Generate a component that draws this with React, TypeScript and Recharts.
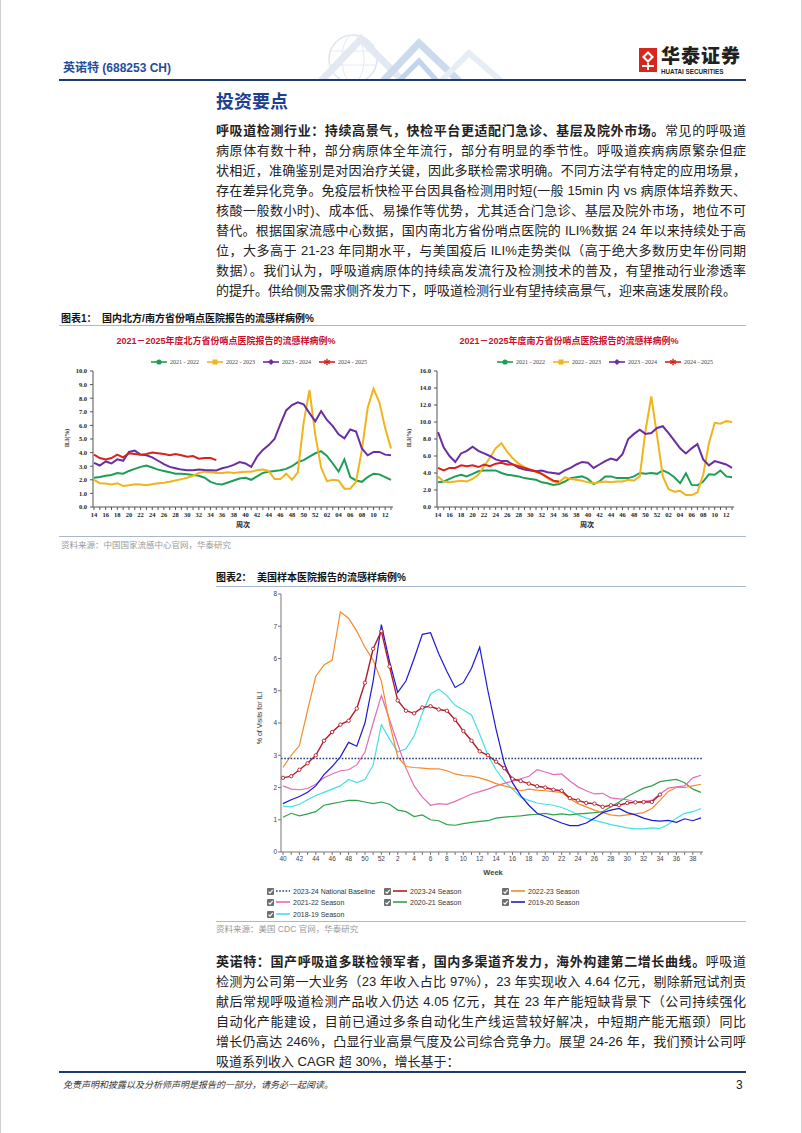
import React from "react";
import { Line, LineChart, ReferenceLine, XAxis, YAxis } from "recharts";

// ---- 图表1: 国内北方/南方省份哨点医院 ILI% (周次 14 → 次年 13) ----
const cnWeeks = [
  "14", "15", "16", "17", "18", "19", "20", "21", "22", "23", "24", "25", "26",
  "27", "28", "29", "30", "31", "32", "33", "34", "35", "36", "37", "38", "39",
  "40", "41", "42", "43", "44", "45", "46", "47", "48", "49", "50", "51", "52",
  "01", "02", "03", "04", "05", "06", "07", "08", "09", "10", "11", "12", "13",
];

const north2122 = [
  2.15, 2.2, 2.3, 2.35, 2.5, 2.45, 2.65, 2.8, 2.95, 3.05, 2.9, 2.75, 2.65,
  2.55, 2.45, 2.45, 2.4, 2.35, 2.3, 2.15, 1.85, 1.7, 1.65, 1.8, 1.95, 2.1,
  2.15, 2.0, 2.25, 2.5, 2.6, 2.65, 2.7, 2.8, 3.0, 3.3, 3.45, 3.7, 3.95,
  4.1, 3.75, 3.2, 2.6, 3.5, 2.2, 1.95, 1.85, 2.2, 2.45, 2.4, 2.2, 2.0,
];
const north2223 = [
  2.0, 1.75, 1.72, 1.65, 1.75, 1.55, 1.6, 1.68, 1.65, 1.6, 1.68, 1.75, 1.78,
  1.85, 1.95, 2.05, 2.15, 2.3, 2.5, 2.6, 2.55, 2.5, 2.5, 2.55, 2.5, 2.55,
  2.6, 2.6, 2.7, 2.75, 2.65, 2.05, 2.05, 2.45, 2.0, 2.55, 6.2, 8.6, 5.3,
  2.9, 1.9, 2.0, 1.95, 1.35, 1.35, 1.85, 4.2, 7.3, 8.7, 7.7, 5.8, 4.3,
];
const north2324 = [
  3.25, 3.05, 3.35, 3.2, 3.5, 3.4, 4.05, 4.15, 3.85, 3.8, 3.65, 3.4, 3.15,
  2.95, 2.85, 2.75, 2.7, 2.7, 2.75, 2.72, 2.7, 2.68, 2.85, 2.95, 3.1, 3.3,
  3.2, 2.95, 3.7, 4.2, 4.55, 5.0, 6.1, 7.1, 7.5, 7.7, 7.55, 6.9, 6.3,
  7.05, 6.4, 5.95, 5.35, 5.05, 5.7, 5.55, 4.3, 3.8, 4.05, 4.05, 3.85, 3.8,
];
const north2425 = [
  3.85, 3.6, 3.5, 3.6, 3.85, 3.65, 3.95, 3.9, 3.85, 3.9, 4.0, 3.95, 3.9,
  3.8, 3.9, 3.8, 3.7, 3.75, 3.55, 3.6, 3.6, 3.45,
];

const south2122 = [
  2.9, 3.0, 3.3, 3.6, 3.8, 3.6, 3.9, 4.2, 4.3, 4.3, 4.3, 4.0, 3.8,
  3.7, 3.6, 3.4, 3.3, 3.2, 2.9, 2.8, 2.6, 2.7, 3.0, 3.4, 3.5, 3.6,
  3.3, 2.7, 3.0, 3.6, 3.6, 3.4, 3.4, 3.4, 3.6, 4.0, 3.9, 4.0, 3.9,
  4.3, 4.0, 3.5, 2.8, 3.95, 2.6, 2.55, 3.0, 3.85, 3.8, 4.3, 3.6, 3.5,
];
const south2223 = [
  3.6, 3.0, 2.9, 3.0, 3.1, 3.0, 3.3, 3.8, 4.8, 5.8, 6.9, 7.5, 6.5,
  5.7, 5.1, 4.7, 4.4, 4.1, 3.9, 3.4, 3.0, 2.9, 3.5, 3.3, 3.2, 3.1,
  2.9, 2.8, 2.9, 3.0, 2.9, 3.0, 3.0, 3.2, 3.1, 3.6, 9.0, 13.0, 8.4,
  3.6, 2.1, 1.8, 1.9, 1.4, 1.4, 1.7, 3.8, 7.5, 9.9, 9.8, 10.1, 10.0,
];
const south2324 = [
  8.8, 7.0, 6.0, 5.3, 6.3, 6.6, 7.1, 6.6, 6.3, 6.0, 5.6, 5.4, 5.4,
  5.0, 4.6, 4.4, 4.3, 4.2, 4.3, 4.1, 4.0, 3.9, 4.3, 4.6, 5.0, 5.3,
  5.2, 4.6, 5.0, 5.4, 5.7, 5.5, 6.2, 8.0, 8.6, 9.1, 8.6, 8.7, 9.3,
  9.5, 8.7, 7.8, 6.9, 6.3, 6.9, 7.4, 5.6, 4.9, 5.4, 5.2, 5.0, 4.6,
];
const south2425 = [
  4.6, 4.3, 4.6, 4.6, 4.9, 4.8, 4.9, 4.7, 5.0, 4.8, 5.1, 5.2, 5.0,
  5.0, 4.8, 4.6, 4.4, 4.2, 3.9, 3.5, 3.1, 3.0,
];

const northTicks = [0, 1, 2, 3, 4, 5, 6, 7, 8, 9, 10];
const southTicks = [0, 2, 4, 6, 8, 10, 12, 14, 16];

// ---- 图表2: 美国样本医院 ILI% (Week 40 → 39) ----
const usWeeks = [
  "40", "41", "42", "43", "44", "45", "46", "47", "48", "49", "50", "51", "52",
  "1", "2", "3", "4", "5", "6", "7", "8", "9", "10", "11", "12", "13",
  "14", "15", "16", "17", "18", "19", "20", "21", "22", "23", "24", "25", "26",
  "27", "28", "29", "30", "31", "32", "33", "34", "35", "36", "37", "38", "39",
];
const usBaseline = 2.9;
const us2324 = [
  2.3, 2.35, 2.55, 2.75, 3.0, 3.45, 3.72, 3.95, 4.07, 4.45, 5.25, 6.3, 6.85,
  5.75, 4.7, 4.38, 4.3, 4.48, 4.52, 4.42, 4.38, 4.1, 3.75, 3.45, 3.12, 3.0,
  2.8, 2.6, 2.27, 2.2, 2.12, 2.04, 2.0, 1.93, 1.9, 1.67, 1.6, 1.52, 1.5,
  1.4, 1.45, 1.45, 1.52, 1.54, 1.55, 1.55, 1.78,
];
const us2223 = [
  2.62, 3.0, 3.3, 4.4, 5.45, 5.8, 5.95, 7.45, 7.25, 6.85, 6.35, 5.95, 5.3,
  4.0, 2.95, 2.65, 2.62, 2.6, 2.58, 2.58, 2.52, 2.42, 2.37, 2.35, 2.3, 2.22,
  2.12, 2.05, 1.98, 1.9, 1.95, 1.92, 1.9, 1.87, 1.85, 1.65, 1.5, 1.4, 1.3,
  1.22, 1.15, 1.12, 1.15, 1.18, 1.22, 1.35, 1.6, 1.88, 2.0, 2.0, 2.05, 2.1,
];
const us2122 = [
  2.05, 1.95, 1.93, 1.97, 2.1, 2.3, 2.42, 2.52, 2.55, 2.7, 3.1, 4.0, 4.85,
  4.1, 3.35, 2.6, 2.05, 1.7, 1.45, 1.5, 1.48, 1.57, 1.68, 1.8, 1.87, 1.95,
  2.05, 2.13, 2.2, 2.27, 2.35, 2.55, 2.48, 2.4, 2.42, 2.2, 2.02, 1.9, 1.8,
  1.82, 1.68, 1.65, 1.62, 1.55, 1.57, 1.6, 1.8, 1.98, 2.02, 2.05, 2.3, 2.38,
];
const us2021 = [
  1.08, 1.2, 1.12, 1.18, 1.25, 1.45, 1.5, 1.55, 1.6, 1.6, 1.55, 1.5, 1.55,
  1.48, 1.3, 1.25, 1.1, 1.15, 1.0, 0.97, 0.85, 0.83, 0.88, 0.92, 0.95, 0.97,
  1.05, 1.08, 1.1, 1.12, 1.15, 1.17, 1.2, 1.15, 1.18, 1.15, 1.18, 1.2, 1.22,
  1.25, 1.4, 1.55, 1.72, 1.85, 1.98, 2.05, 2.18, 2.22, 2.25, 2.15, 1.95, 1.85,
];
const us1920 = [
  1.5, 1.62, 1.72, 1.85, 2.05, 2.4, 2.65, 2.95, 3.4, 3.28, 4.0, 5.3, 7.05,
  5.9, 4.95, 5.3, 6.0, 6.75, 6.8, 6.15, 5.6, 5.1, 5.25, 5.7, 6.35, 5.0,
  3.8, 2.75, 2.15, 1.75, 1.45, 1.2, 1.1, 1.0, 0.9, 0.82, 0.82, 0.9, 1.05,
  1.22, 1.3, 1.35, 1.22, 1.15, 1.05, 0.98, 0.96, 0.98, 0.92, 1.03, 0.97, 1.06,
];
const us1819 = [
  1.42, 1.4, 1.48, 1.62, 1.75, 1.85, 1.95, 2.05, 2.25, 2.15, 2.25, 2.7, 3.95,
  3.5, 3.1, 3.2, 3.6, 4.3, 4.9, 5.05, 4.85, 4.55, 4.4, 4.25, 3.65, 3.0,
  2.55, 2.2, 1.95, 1.7, 1.6, 1.52, 1.48, 1.45, 1.38, 1.28, 1.15, 1.05, 0.98,
  0.92, 0.85, 0.8, 0.75, 0.72, 0.72, 0.75, 0.73, 0.85, 1.05, 1.2, 1.25, 1.35,
];
const usTicks = [0, 1, 2, 3, 4, 5, 6, 7, 8];

const SANS = '"Liberation Sans", Arial, "Noto Sans CJK SC", sans-serif';
const SERIF = '"Liberation Serif", "Times New Roman", "Noto Sans CJK SC", serif';
const NAVY = "#1c3a6b";
const RULE = "#aab8cb";

const cnSeries = [
  { key: "s2122", name: "2021 - 2022", color: "#1e9e55", marker: "circle" },
  { key: "s2223", name: "2022 - 2023", color: "#f0b41c", marker: "square" },
  { key: "s2324", name: "2023 - 2024", color: "#6a2ea2", marker: "diamond" },
  { key: "s2425", name: "2024 - 2025", color: "#d8221d", marker: "star" },
];

const usSeries = [
  { key: "u1819", name: "2018-19 Season", color: "#45e0e6" },
  { key: "u2021", name: "2020-21 Season", color: "#2fa24a" },
  { key: "u2122", name: "2021-22 Season", color: "#e46cb7" },
  { key: "u2223", name: "2022-23 Season", color: "#f58a2a" },
  { key: "u1920", name: "2019-20 Season", color: "#1d18d6" },
  { key: "u2324", name: "2023-24 Season", color: "#b11e2c" },
];

const usLegend = [
  { name: "2023-24 National Baseline", color: "#1f3f7a", dotted: true },
  { name: "2023-24 Season", color: "#b11e2c" },
  { name: "2022-23 Season", color: "#f58a2a" },
  { name: "2021-22 Season", color: "#e46cb7" },
  { name: "2020-21 Season", color: "#2fa24a" },
  { name: "2019-20 Season", color: "#1d18d6" },
  { name: "2018-19 Season", color: "#45e0e6" },
];

function buildCn(a: number[], b: number[], c: number[], d: number[]) {
  return cnWeeks.map((week, i) => ({
    week,
    s2122: a[i] ?? null,
    s2223: b[i] ?? null,
    s2324: c[i] ?? null,
    s2425: d[i] ?? null,
  }));
}

const northData = buildCn(north2122, north2223, north2324, north2425);
const southData = buildCn(south2122, south2223, south2324, south2425);

const usData = usWeeks.map((week, i) => ({
  week,
  u1819: us1819[i] ?? null,
  u2021: us2021[i] ?? null,
  u2122: us2122[i] ?? null,
  u2223: us2223[i] ?? null,
  u1920: us1920[i] ?? null,
  u2324: us2324[i] ?? null,
}));

const CnTick = (props: any) => {
  const { x, y, payload, index } = props;
  if (index % 2 !== 0) return <g />;
  return (
    <text x={x} y={y} dy="0.71em" textAnchor="middle" fontSize={6.5}
      fontFamily={SERIF} fontWeight={700} fill="#222">
      {payload.value}
    </text>
  );
};

const UsTick = (props: any) => {
  const { x, y, payload, index } = props;
  if (index % 2 !== 0) return <g />;
  return (
    <text x={x} y={y} dy="0.71em" textAnchor="middle" fontSize={6.5}
      fontFamily={SANS} fill="#444">
      {payload.value}
    </text>
  );
};

function Marker({ type, color }: { type: string; color: string }) {
  if (type === "circle") return <circle cx={8} cy={4} r={2.6} fill={color} />;
  if (type === "square") return <rect x={5.5} y={1.5} width={5} height={5} fill={color} />;
  if (type === "diamond")
    return <polygon points="8,1 11,4 8,7 5,4" fill={color} />;
  return (
    <g stroke={color} strokeWidth={1.4}>
      <line x1={8} y1={0.8} x2={8} y2={7.2} />
      <line x1={5.2} y1={2.4} x2={10.8} y2={5.6} />
      <line x1={5.2} y1={5.6} x2={10.8} y2={2.4} />
    </g>
  );
}

function CnLegend({ left, top }: { left: number; top: number }) {
  return (
    <div style={{ position: "absolute", left, top, display: "flex", gap: 8 }}>
      {cnSeries.map((s) => (
        <div key={s.key} style={{ display: "flex", alignItems: "center" }}>
          <svg width={16} height={8}>
            <line x1={0} y1={4} x2={16} y2={4} stroke={s.color} strokeWidth={1.6} />
            <Marker type={s.marker} color={s.color} />
          </svg>
          <span style={{ fontFamily: SERIF, fontSize: 6, color: "#444", marginLeft: 3, lineHeight: "8px" }}>
            {s.name}
          </span>
        </div>
      ))}
    </div>
  );
}

function CnChart(props: {
  data: any[];
  left: number;
  yAxisWidth: number;
  rightMargin: number;
  max: number;
  ticks: number[];
  title: string;
  titleCenter: number;
  legendLeft: number;
}) {
  const { data, left, yAxisWidth, rightMargin, max, ticks, title, titleCenter, legendLeft } = props;
  return (
    <>
      <div style={{ position: "absolute", left: titleCenter - 160, top: 335, width: 320, textAlign: "center",
        fontFamily: SANS, fontWeight: 700, fontSize: 9, lineHeight: "12px", color: "#c8102e" }}>
        {title}
      </div>
      <CnLegend left={legendLeft} top={358} />
      <div style={{ position: "absolute", left, top: 355 }}>
        <LineChart width={335} height={180} data={data}
          margin={{ top: 16, right: rightMargin, bottom: 16, left: 0 }}>
          <XAxis dataKey="week" interval={0} tick={CnTick} height={12} tickSize={3} tickMargin={2}
            stroke="#555" padding={{ left: 1, right: 2 }} />
          <YAxis domain={[0, max]} ticks={ticks} width={yAxisWidth} tickSize={3} tickMargin={3}
            stroke="#555" tickFormatter={(v: number) => v.toFixed(1)}
            tick={{ fontSize: 6.5, fontFamily: SERIF, fontWeight: 700, fill: "#222" }} />
          {cnSeries.map((s) => (
            <Line key={s.key} type="linear" dataKey={s.key} stroke={s.color} strokeWidth={2}
              dot={false} isAnimationActive={false} />
          ))}
        </LineChart>
      </div>
      <div style={{ position: "absolute", left: left + 4, top: 438, width: 0, height: 0 }}>
        <div style={{ position: "absolute", transform: "translate(-50%, -50%) rotate(-90deg)", whiteSpace: "nowrap",
          fontFamily: SERIF, fontWeight: 700, fontSize: 6, color: "#222" }}>
          ILI(%)
        </div>
      </div>
      <div style={{ position: "absolute", left: left + yAxisWidth + 120, top: 520, width: 60, textAlign: "center",
        fontFamily: SANS, fontWeight: 700, fontSize: 7, lineHeight: "10px", color: "#222" }}>
        周次
      </div>
    </>
  );
}

function CheckBox() {
  return (
    <svg width={7} height={7} style={{ display: "block" }}>
      <rect x={0} y={0} width={7} height={7} rx={1} fill="#6e6e6e" />
      <polyline points="1.5,3.6 3,5.2 5.7,1.8" fill="none" stroke="#fff" strokeWidth={1.1} />
    </svg>
  );
}

function UsLegend() {
  const cols = [266, 383, 501];
  const rows = [887, 898, 910];
  return (
    <>
      {usLegend.map((item, i) => (
        <div key={item.name} style={{ position: "absolute", left: cols[i % 3], top: rows[Math.floor(i / 3)],
          display: "flex", alignItems: "center", height: 8 }}>
          <CheckBox />
          <svg width={14} height={6} style={{ marginLeft: 2 }}>
            <line x1={0} y1={3} x2={14} y2={3} stroke={item.color} strokeWidth={item.dotted ? 1.5 : 1.6}
              strokeDasharray={item.dotted ? "1.6 1.6" : undefined} />
          </svg>
          <span style={{ fontFamily: SANS, fontSize: 7, color: "#333", marginLeft: 3, whiteSpace: "nowrap" }}>
            {item.name}
          </span>
        </div>
      ))}
    </>
  );
}

function UsChart() {
  return (
    <>
      <div style={{ position: "absolute", left: 250, top: 590 }}>
        <LineChart width={460} height={276} data={usData}
          margin={{ top: 4, right: 8, bottom: 0, left: 0 }}>
          <XAxis dataKey="week" interval={0} tick={UsTick} height={14} tickSize={3} tickMargin={1}
            stroke="#777" padding={{ left: 2, right: 2 }} />
          <YAxis domain={[0, 8]} ticks={usTicks} width={30} tickSize={3} tickMargin={1}
            stroke="#777" tick={{ fontSize: 6.5, fontFamily: SANS, fill: "#444" }} />
          {usSeries.map((s) => (
            <Line key={s.key} type="linear" dataKey={s.key} stroke={s.color}
              strokeWidth={s.key === "u2324" ? 1.4 : 1.2}
              dot={s.key === "u2324" ? { r: 1.7, fill: "#fff", stroke: s.color, strokeWidth: 0.9 } : false}
              isAnimationActive={false} />
          ))}
          <ReferenceLine y={usBaseline} stroke="#1f3f7a" strokeWidth={1.5} strokeDasharray="1.6 1.6" />
        </LineChart>
      </div>
      <div style={{ position: "absolute", left: 258, top: 718, width: 0, height: 0 }}>
        <div style={{ position: "absolute", transform: "translate(-50%, -50%) rotate(-90deg)", whiteSpace: "nowrap",
          fontFamily: SANS, fontSize: 7, color: "#333" }}>
          % of Visits for ILI
        </div>
      </div>
      <div style={{ position: "absolute", left: 462, top: 868, width: 60, textAlign: "center",
        fontFamily: SANS, fontWeight: 700, fontSize: 7.5, lineHeight: "10px", color: "#444" }}>
        Week
      </div>
      <UsLegend />
    </>
  );
}

const bodyText: React.CSSProperties = {
  fontFamily: SANS,
  fontSize: 13,
  lineHeight: "20px",
  color: "#222",
  width: 530,
  whiteSpace: "nowrap",
};

function Para({ top, lines }: { top: number; lines: React.ReactNode[] }) {
  return (
    <div style={{ position: "absolute", left: 215, top }}>
      {lines.map((l, i) => (
        <div key={i} style={{ ...bodyText, textAlign: "justify",
          textAlignLast: i === lines.length - 1 ? "left" : "justify" }}>
          {l}
        </div>
      ))}
    </div>
  );
}

const para1 = [
  <><b>呼吸道检测行业：持续高景气，快检平台更适配门急诊、基层及院外市场。</b>常见的呼吸道</>,
  "病原体有数十种，部分病原体全年流行，部分有明显的季节性。呼吸道疾病病原繁杂但症",
  "状相近，准确鉴别是对因治疗关键，因此多联检需求明确。不同方法学有特定的应用场景，",
  "存在差异化竞争。免疫层析快检平台因具备检测用时短(一般 15min 内 vs 病原体培养数天、",
  "核酸一般数小时)、成本低、易操作等优势，尤其适合门急诊、基层及院外市场，地位不可",
  "替代。根据国家流感中心数据，国内南北方省份哨点医院的 ILI%数据 24 年以来持续处于高",
  "位，大多高于 21-23 年同期水平，与美国疫后 ILI%走势类似（高于绝大多数历史年份同期",
  "数据）。我们认为，呼吸道病原体的持续高发流行及检测技术的普及，有望推动行业渗透率",
  "的提升。供给侧及需求侧齐发力下，呼吸道检测行业有望持续高景气，迎来高速发展阶段。",
];

const para2 = [
  <><b>英诺特：国产呼吸道多联检领军者，国内多渠道齐发力，海外构建第二增长曲线。</b>呼吸道</>,
  "检测为公司第一大业务（23 年收入占比 97%），23 年实现收入 4.64 亿元，剔除新冠试剂贡",
  "献后常规呼吸道检测产品收入仍达 4.05 亿元，其在 23 年产能短缺背景下（公司持续强化",
  "自动化产能建设，目前已通过多条自动化生产线运营较好解决，中短期产能无瓶颈）同比",
  "增长仍高达 246%，凸显行业高景气度及公司综合竞争力。展望 24-26 年，我们预计公司呼",
  "吸道系列收入 CAGR 超 30%，增长基于：",
];

function Rule({ top, left, right, h = 1, color = RULE }: { top: number; left: number; right: number; h?: number; color?: string }) {
  return <div style={{ position: "absolute", top, left, width: right - left, height: h, background: color }} />;
}

function Header() {
  return (
    <>
      <svg width={260} height={50} style={{ position: "absolute", left: 290, top: 31 }}>
        <g fill="none" opacity={0.7}>
          <circle cx={62} cy={28} r={24} stroke="#d2dce8" strokeWidth={1.5} />
          <ellipse cx={62} cy={28} rx={11} ry={24} stroke="#dbe3ee" strokeWidth={1} />
          <line x1={38} y1={20} x2={86} y2={20} stroke="#dbe3ee" />
          <line x1={38} y1={34} x2={86} y2={34} stroke="#dbe3ee" />
          <polyline points="30,50 70,8 112,50" stroke="#d6e1ef" strokeWidth={7} />
          <polyline points="92,50 128,12 168,50" stroke="#b7cbe6" strokeWidth={7} />
          <polyline points="150,50 178,22 210,50" stroke="#dde6f2" strokeWidth={6} />
          <polyline points="108,50 128,30 146,50" stroke="#a6c2e6" strokeWidth={5} />
        </g>
      </svg>
      <div style={{ position: "absolute", left: 62, top: 60, fontFamily: SANS, fontWeight: 700, fontSize: 12,
        lineHeight: "16px", color: "#1f4e9b" }}>
        英诺特 (688253 CH)
      </div>
      <svg width={18} height={24} style={{ position: "absolute", left: 638, top: 48 }}>
        <rect x={0} y={0} width={18} height={24} fill="#d7261e" />
        <polygon points="9,3 15,9 9,15 3,9" fill="#fff" />
        <polygon points="9,6 12,9 9,12 6,9" fill="#d7261e" />
        <rect x={3} y={17} width={12} height={2} fill="#fff" />
        <rect x={8} y={15} width={2} height={7} fill="#fff" />
      </svg>
      <div style={{ position: "absolute", left: 660, top: 46, fontFamily: SANS, fontWeight: 900, fontSize: 19,
        lineHeight: "22px", color: "#231f20", letterSpacing: 1 }}>
        华泰证券
      </div>
      <div style={{ position: "absolute", left: 660, top: 68, fontFamily: SANS, fontWeight: 700, fontSize: 6.3,
        lineHeight: "8px", color: "#231f20" }}>
        HUATAI SECURITIES
      </div>
      <Rule top={79} left={58} right={745} h={2} color={NAVY} />
      <div style={{ position: "absolute", left: 215, top: 90, fontFamily: SANS, fontWeight: 700, fontSize: 18,
        lineHeight: "24px", color: "#1f3f8f" }}>
        投资要点
      </div>
    </>
  );
}

export default function App() {
  return (
    <div style={{ position: "absolute", left: 0, top: 0, width: 802, height: 1133, background: "#fff",
      overflow: "hidden", borderLeft: "1px solid #cfcfcf", borderRight: "1px solid #cfcfcf", boxSizing: "border-box" }}>
      <Header />
      <Para top={121} lines={para1} />

      <div style={{ position: "absolute", left: 60, top: 312, fontFamily: SANS, fontWeight: 700, fontSize: 10,
        lineHeight: "14px", color: "#111" }}>
        图表1：&nbsp;&nbsp;国内北方/南方省份哨点医院报告的流感样病例%
      </div>
      <Rule top={325} left={58} right={745} />
      <CnChart data={northData} left={62} yAxisWidth={30} rightMargin={5} max={10} ticks={northTicks}
        title="2021－2025年度北方省份哨点医院报告的流感样病例%" titleCenter={225} legendLeft={150} />
      <CnChart data={southData} left={404} yAxisWidth={32} rightMargin={6} max={16} ticks={southTicks}
        title="2021－2025年度南方省份哨点医院报告的流感样病例%" titleCenter={568} legendLeft={496} />
      <Rule top={536} left={58} right={745} />
      <div style={{ position: "absolute", left: 60, top: 539, fontFamily: SANS, fontSize: 8.5, lineHeight: "12px",
        color: "#999" }}>
        资料来源：中国国家流感中心官网，华泰研究
      </div>

      <div style={{ position: "absolute", left: 215, top: 571, fontFamily: SANS, fontWeight: 700, fontSize: 10,
        lineHeight: "14px", color: "#111" }}>
        图表2：&nbsp;&nbsp;美国样本医院报告的流感样病例%
      </div>
      <Rule top={586} left={215} right={745} />
      <UsChart />
      <Rule top={921} left={215} right={745} />
      <div style={{ position: "absolute", left: 215, top: 923, fontFamily: SANS, fontSize: 8.5, lineHeight: "12px",
        color: "#999" }}>
        资料来源：美国 CDC 官网，华泰研究
      </div>

      <Para top={952} lines={para2} />

      <Rule top={1071} left={58} right={745} h={2} color={NAVY} />
      <div style={{ position: "absolute", left: 62, top: 1079, fontFamily: SANS, fontStyle: "italic", fontSize: 9,
        lineHeight: "12px", color: "#333" }}>
        免责声明和披露以及分析师声明是报告的一部分，请务必一起阅读。
      </div>
      <div style={{ position: "absolute", left: 735, top: 1078, fontFamily: SANS, fontSize: 12, lineHeight: "14px",
        color: "#222" }}>
        3
      </div>
    </div>
  );
}
